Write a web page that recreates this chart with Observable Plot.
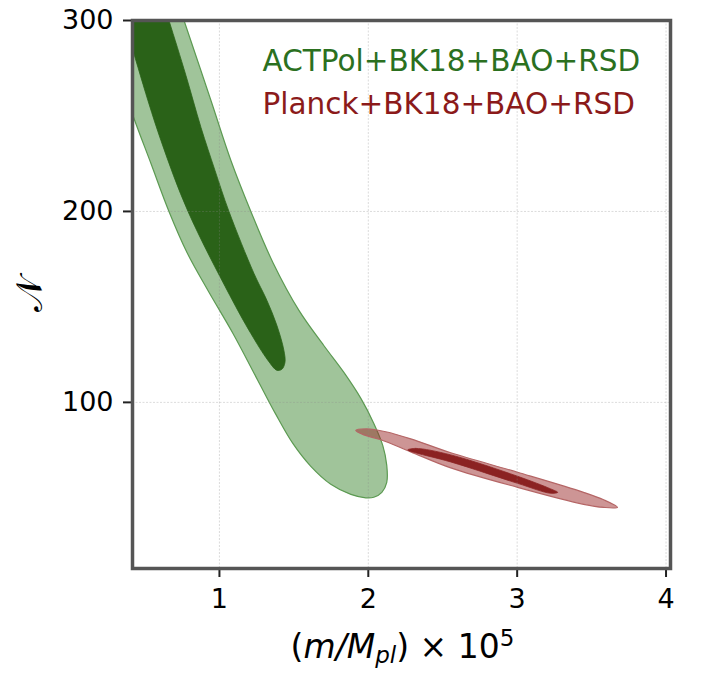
<!DOCTYPE html>
<html>
<head>
<meta charset="utf-8">
<script src="https://cdn.jsdelivr.net/npm/d3@7"></script>
<script src="https://cdn.jsdelivr.net/npm/@observablehq/plot@0.6"></script>
<style>
  html, body { margin: 0; padding: 0; background: #fff; }
</style>
</head>
<body>
<div id="chart"></div>
<script>
// ---- data ----
const xTicks = [1, 2, 3, 4];
const yTicks = [100, 200, 300];
const legendLabels = ["ACTPol+BK18+BAO+RSD", "Planck+BK18+BAO+RSD"];

// contour vertices: [m/Mpl x 1e5, N]
const actpolOuter = [[0.138,318.3],[0.681,318.3],[0.762,300],[0.943,258.1],[1.077,226.7],[1.211,200],[1.359,173.3],[1.534,148.2],[1.701,129.8],[1.836,115.7],[1.950,102.1],[2.037,89.0],[2.097,77.5],[2.124,67.0],[2.124,58.1],[2.091,52.9],[2.037,50.3],[1.983,50.0],[1.883,51.8],[1.748,57.1],[1.614,66.5],[1.493,78.5],[1.379,93.7],[1.258,111.5],[1.091,136.1],[0.923,158.6],[0.782,178.5],[0.661,200],[0.540,225.1],[0.426,248.7],[0.326,271.2],[0.198,300]];
const actpolInner = [[0.339,318.3],[0.587,318.3],[0.661,300],[0.775,271.2],[0.876,244.0],[0.970,221.5],[1.064,200],[1.232,167.5],[1.319,153.4],[1.386,140.3],[1.433,127.2],[1.440,120.9],[1.419,117.3],[1.386,116.8],[1.326,122.0],[1.211,136.1],[1.070,156.0],[0.789,200],[0.607,237.2],[0.453,275.4],[0.366,300]];
const planckOuter = [[1.916,85.3],[1.990,86.1],[2.117,84.6],[2.285,80.9],[2.554,73.6],[3.003,63.4],[3.446,52.9],[3.581,49.0],[3.674,45.0],[3.581,45.0],[3.446,46.6],[3.003,55.5],[2.554,65.7],[2.285,74.1],[2.084,80.4],[1.970,83.0]];
const planckInner = [[2.265,75.1],[2.319,75.9],[2.554,72.5],[3.003,61.3],[3.225,54.7],[3.272,52.9],[3.225,52.4],[3.003,57.6],[2.554,68.8],[2.319,73.6]];

const colors = {
  greenText: "#2b701f", redText: "#8b1a1a",
  greenLight: "#368228", greenLightStroke: "#5c9a52", greenDark: "#2a6218",
  redLight: "#9b2b2b", redLightStroke: "#b56666", redDark: "#8b2222"
};

const font = "DejaVu Sans";
const shape = (data, opts) => Plot.line(data, {x: d => d[0], y: d => d[1], curve: "catmull-rom-closed", clip: true, ...opts});

const plot = Plot.plot({
  width: 720,
  height: 694,
  marginLeft: 132,
  marginRight: 50,
  marginTop: 20,
  marginBottom: 126,
  x: {domain: [0.416, 4.03]},
  y: {domain: [13, 300]},
  style: {fontFamily: font, background: "#fff", color: "#000", overflow: "visible"},
  marks: [
    shape(actpolOuter, {fill: colors.greenLight, fillOpacity: 0.47, stroke: colors.greenLightStroke, strokeWidth: 1.2}),
    shape(actpolInner, {fill: colors.greenDark, stroke: colors.greenDark, strokeWidth: 0.8}),
    shape(planckOuter, {fill: colors.redLight, fillOpacity: 0.5, stroke: colors.redLightStroke, strokeWidth: 1.2}),
    shape(planckInner, {fill: colors.redDark, stroke: colors.redDark, strokeWidth: 0.8}),
    Plot.gridX(xTicks, {stroke: "#888", strokeOpacity: 0.3, strokeWidth: 1, strokeDasharray: "2,1.5"}),
    Plot.gridY(yTicks, {stroke: "#888", strokeOpacity: 0.3, strokeWidth: 1, strokeDasharray: "2,1.5"}),
    Plot.axisX(xTicks, {tickSize: 9, tickPadding: 11, fontSize: 27, strokeWidth: 2, stroke: "#222", fill: "#000", label: null, tickFormat: d => String(d)}),
    Plot.axisY(yTicks, {tickSize: 9, tickPadding: 10, fontSize: 27, strokeWidth: 2, stroke: "#222", fill: "#000", label: null, tickFormat: d => String(d)}),
    Plot.frame({stroke: "#555", strokeWidth: 3.5}),
    Plot.text([legendLabels[0]], {text: d => d, frameAnchor: "top-left", dx: 130, dy: 29.8, textAnchor: "start", lineAnchor: "top", fontSize: 29.5, fill: colors.greenText}),
    Plot.text([legendLabels[1]], {text: d => d, frameAnchor: "top-left", dx: 130, dy: 72.4, textAnchor: "start", lineAnchor: "top", fontSize: 29.5, fill: colors.redText})
  ]
});

document.getElementById("chart").appendChild(plot);

// axis titles (math-styled text)
const svg = d3.select(plot);
const xl = svg.append("text")
  .attr("x", 402.5).attr("y", 658)
  .attr("text-anchor", "middle")
  .attr("font-family", font).attr("font-size", 33).attr("fill", "#000");
xl.append("tspan").text("(");
xl.append("tspan").attr("font-style", "italic").text("m/M");
xl.append("tspan").attr("font-style", "italic").attr("font-size", 23).attr("dy", 5).text("pl");
xl.append("tspan").attr("dy", -5).text(") \u00D7 10");
xl.append("tspan").attr("font-size", 23).attr("dy", -12).text("5");

svg.append("text")
  .attr("transform", "translate(42,295) rotate(-90)")
  .attr("text-anchor", "middle")
  .attr("font-family", font).attr("font-size", 36).attr("fill", "#000")
  .text("\u{1D4A9}");
</script>
</body>
</html>
